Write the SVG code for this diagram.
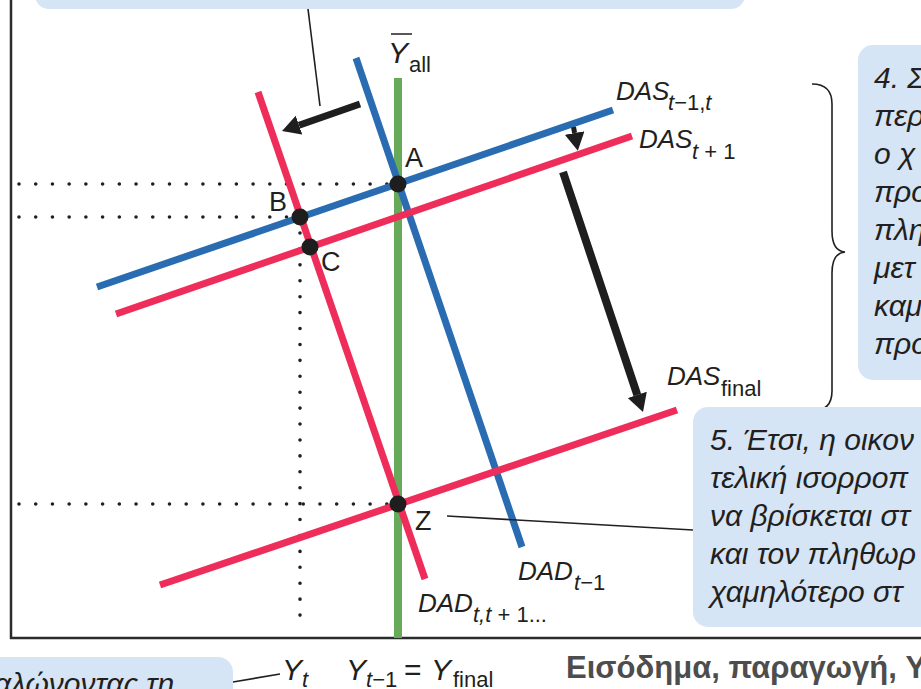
<svg xmlns="http://www.w3.org/2000/svg" width="921" height="689" viewBox="0 0 921 689">
<style>
.box{fill:#d5e5f5}
.lbl{font-family:"Liberation Sans",Arial,sans-serif;fill:#231f20}
.it{font-style:italic}
.big{font-size:26px}
.pl{font-size:27px}
.sub{font-size:22px}
.bt{font-family:"Liberation Sans",Arial,sans-serif;font-style:italic;font-size:30px;fill:#231f20}
.thin{stroke:#231f20;stroke-width:1.6;fill:none}
.dot{stroke:#231f20;stroke-width:3.6;stroke-linecap:round;fill:none}
.blue{stroke:#2a6cb1;stroke-width:7;fill:none}
.red{stroke:#ee2d5a;stroke-width:7;fill:none}
.arr{stroke:#1e1e1e;fill:none}
.pt{fill:#1e1e1e}
</style>
<defs>
<marker id="ah" markerUnits="userSpaceOnUse" markerWidth="18" markerHeight="20" viewBox="0 0 18 20" refX="0" refY="10" orient="auto">
<path d="M0,0 L18,10 L0,20 z" fill="#1e1e1e"/>
</marker>
</defs>

<g id="axes">
<line x1="11" y1="0" x2="11" y2="639" stroke="#2b2b2b" stroke-width="2.5"/>
<line x1="10" y1="638" x2="921" y2="638" stroke="#2b2b2b" stroke-width="2.5"/>
</g>

<g id="dotted">
<line class="dot" x1="19" y1="184" x2="387" y2="184" stroke-dasharray="0 16.72"/>
<line class="dot" x1="19" y1="217" x2="288" y2="217" stroke-dasharray="0 16.72"/>
<line class="dot" x1="19" y1="504" x2="387" y2="504" stroke-dasharray="0 16.72"/>
<line class="dot" x1="300" y1="233" x2="300" y2="631" stroke-dasharray="0 15.92"/>
</g>

<g id="top-box">
<rect class="box" x="35" y="-30" width="710" height="39" rx="14"/>
</g>

<g id="curves">
<line x1="398" y1="78" x2="398" y2="638" stroke="#66aa5a" stroke-width="8"/>
<line id="DAD_t-1" class="blue" x1="356" y1="58" x2="522" y2="547"/>
<line id="DAD_t" class="red" x1="258" y1="92" x2="425" y2="579"/>
<line id="DAS_t-1" class="blue" x1="97" y1="287" x2="613" y2="110"/>
<line id="DAS_t+1" class="red" x1="116" y1="314" x2="632" y2="136"/>
<line id="DAS_final" class="red" x1="160" y1="585" x2="677" y2="410"/>
</g>

<g id="connectors">
<line class="thin" x1="308" y1="9" x2="320" y2="106"/>
<line class="thin" x1="447" y1="516" x2="693" y2="530"/>
<line class="thin" x1="233" y1="682" x2="280" y2="674"/>
<path class="thin" d="M812,84 Q832,84 832,104 L832,231 Q832,251 845,252 Q832,253 832,273 L832,391 Q832,411 812,411"/>
<line class="arr" stroke-width="7" x1="360" y1="104" x2="299" y2="125.2" marker-end="url(#ah)"/>
<line class="arr" stroke-width="5" x1="573.5" y1="127" x2="574.6" y2="133" marker-end="url(#ah)"/>
<line class="arr" stroke-width="8" x1="563" y1="172" x2="637.3" y2="394.9" marker-end="url(#ah)"/>
</g>

<g id="A"><circle class="pt" cx="398" cy="184" r="8.5"/><text class="lbl pl" x="405" y="167">A</text></g>
<g id="B"><circle class="pt" cx="300" cy="217" r="8.5"/><text class="lbl pl" x="269" y="211">B</text></g>
<g id="C"><circle class="pt" cx="310" cy="247" r="8.5"/><text class="lbl pl" x="321" y="271">C</text></g>
<g id="Z"><circle class="pt" cx="398" cy="504" r="8.5"/><text class="lbl pl" x="415" y="530">Z</text></g>

<g id="curve-labels">
<line x1="391" y1="34" x2="412" y2="34" stroke="#231f20" stroke-width="1.5"/>
<text class="lbl it" font-size="30" x="388" y="63">Y</text>
<text class="lbl sub" x="409" y="72">all</text>

<text class="lbl it big" x="616" y="100">DAS</text>
<text class="lbl it sub" x="668" y="110">t<tspan font-style="normal">−1,</tspan>t</text>

<text class="lbl it big" x="639" y="148">DAS</text>
<text class="lbl it sub" x="692" y="159">t <tspan font-style="normal">+ 1</tspan></text>

<text class="lbl it big" x="667" y="385">DAS</text>
<text class="lbl sub" x="721" y="396">final</text>

<text class="lbl it big" x="518" y="580">DAD</text>
<text class="lbl it sub" x="574" y="590">t<tspan font-style="normal">−1</tspan></text>

<text class="lbl it big" x="418" y="612">DAD</text>
<text class="lbl it sub" x="473" y="622">t,t <tspan font-style="normal">+ 1...</tspan></text>
</g>

<g id="axis-labels">
<text class="lbl it" font-size="30" x="282" y="680">Y</text>
<text class="lbl it sub" x="302" y="687">t</text>
<text class="lbl it" font-size="30" x="346" y="680">Y</text>
<text class="lbl it sub" x="366" y="687">t<tspan font-style="normal">−1</tspan></text>
<text class="lbl" font-size="30" x="404" y="680">=</text>
<text class="lbl it" font-size="30" x="431" y="680">Y</text>
<text class="lbl sub" x="453" y="687">final</text>
<text font-family="Liberation Sans,Arial,sans-serif" font-weight="bold" font-size="31" fill="#4d4d4d" x="566" y="678">Εισόδημα, παραγωγή, Y</text>
</g>

<g id="box4">
<rect class="box" x="858" y="45" width="100" height="335" rx="15"/>
<text class="bt" x="874" y="88">4. Σ</text>
<text class="bt" x="874" y="126">περ</text>
<text class="bt" x="874" y="164">ο χ</text>
<text class="bt" x="874" y="202">προ</text>
<text class="bt" x="874" y="240">πλη</text>
<text class="bt" x="874" y="278">μετ</text>
<text class="bt" x="874" y="316">καμ</text>
<text class="bt" x="874" y="354">προ</text>
</g>

<g id="box5">
<rect class="box" x="693" y="407" width="260" height="220" rx="15"/>
<text class="bt" x="710" y="450">5. Έτσι, η οικον</text>
<text class="bt" x="710" y="488">τελική ισορροπ</text>
<text class="bt" x="710" y="526">να βρίσκεται στ</text>
<text class="bt" x="710" y="564">και τον πληθωρ</text>
<text class="bt" x="710" y="602">χαμηλότερο στ</text>
</g>

<g id="box-bottom">
<rect class="box" x="-20" y="657" width="253" height="60" rx="15"/>
<text class="bt" x="-6" y="694">αλώνοντας τη</text>
</g>
</svg>
